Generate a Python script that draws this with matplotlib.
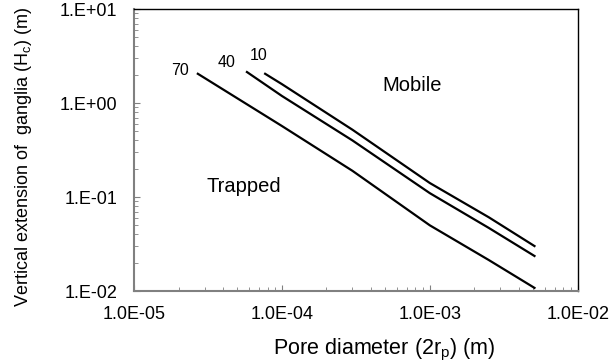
import matplotlib
matplotlib.use("Agg")
import matplotlib.pyplot as plt
from matplotlib.ticker import FixedLocator, LogLocator, NullFormatter

plt.rcParams['font.family'] = ['Liberation Sans', 'DejaVu Sans']

# данные
x_70 = [2.7e-5, 1.0e-4, 3.0e-4, 1.0e-3, 2.5e-3, 5.1e-3]
y_70 = [2.05, 0.57, 0.19, 0.050, 0.0214, 0.0108]
x_40 = [5.8e-5, 1.0e-4, 3.0e-4, 1.0e-3, 2.5e-3, 5.1e-3]
y_40 = [2.14, 1.19, 0.40, 0.110, 0.047, 0.0236]
x_10 = [7.7e-5, 1.0e-4, 3.0e-4, 1.0e-3, 2.5e-3, 5.1e-3]
y_10 = [2.05, 1.59, 0.52, 0.141, 0.061, 0.0301]

x_ticks = [1e-5, 1e-4, 1e-3, 1e-2]
x_tick_labels = ['1.0E-05', '1.0E-04', '1.0E-03', '1.0E-02']
y_ticks = [1e-2, 1e-1, 1e0, 1e1]
y_tick_labels = ['1.E-02', '1.E-01', '1.E+00', '1.E+01']

fig = plt.figure(figsize=(6.12, 3.64), dpi=100)
ax = fig.add_axes([0.219, 0.2005, 0.725, 0.7745])

for xs, ys in [(x_70, y_70), (x_40, y_40), (x_10, y_10)]:
    ax.plot(xs, ys, color='black', linewidth=1.6)

ax.set_xscale('log')
ax.set_yscale('log')
ax.set_xlim(1e-5, 1e-2)
ax.set_ylim(1e-2, 1e1)

ax.xaxis.set_major_locator(FixedLocator(x_ticks))
ax.set_xticklabels(x_tick_labels)
ax.yaxis.set_major_locator(FixedLocator(y_ticks))
ax.set_yticklabels(y_tick_labels)
ax.xaxis.set_minor_locator(LogLocator(base=10, subs=range(2, 10)))
ax.yaxis.set_minor_locator(LogLocator(base=10, subs=range(2, 10)))
ax.xaxis.set_minor_formatter(NullFormatter())
ax.yaxis.set_minor_formatter(NullFormatter())

ax.tick_params(which='both', direction='in', color='#808080', labelsize=13)
ax.tick_params(which='major', length=4)
ax.tick_params(which='minor', length=3)
ax.tick_params(axis='x', pad=11)
ax.tick_params(axis='y', pad=12)

for side in ['left', 'bottom']:
    ax.spines[side].set_color('#808080')
    ax.spines[side].set_linewidth(1.5)
for side in ['top', 'right']:
    ax.spines[side].set_color('black')
    ax.spines[side].set_linewidth(1.0)

ax.text(2.05e-5, 2.24, '70', fontsize=11.5, ha='center', va='center')
ax.text(4.2e-5, 2.73, '40', fontsize=11.5, ha='center', va='center')
ax.text(7.0e-5, 3.2, '10', fontsize=11.5, ha='center', va='center')
ax.text(7.55e-4, 1.52, 'Mobile', fontsize=14.5, ha='center', va='center')
ax.text(5.53e-5, 0.128, 'Trapped', fontsize=14.5, ha='center', va='center')

# подписи осей ставим вручную, как на исходнике
fig.text(384 / 612, 1 - 354 / 364, 'Pore diameter (2r$_\\mathregular{p}$) (m)',
         fontsize=15.5, ha='center', va='baseline')
fig.text(24 / 612, 1 - 157 / 364, 'Vertical extension of  ganglia (H$_\\mathregular{c}$) (m)',
         fontsize=13, ha='center', va='center', rotation=90)

fig.savefig('out.png', dpi=100)
